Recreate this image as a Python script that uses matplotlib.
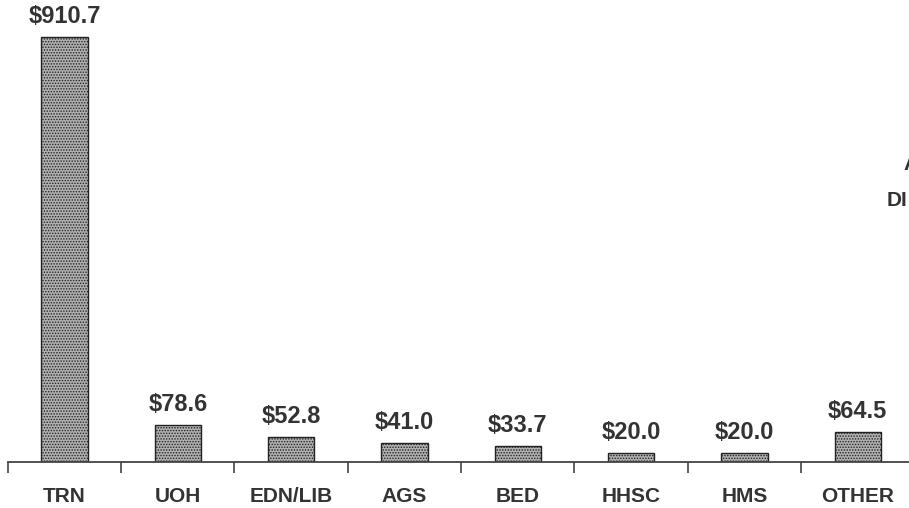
import matplotlib
matplotlib.use("Agg")
import matplotlib.pyplot as plt
import numpy as np

categories = ["TRN", "UOH", "EDN/LIB", "AGS", "BED", "HHSC", "HMS", "OTHER"]
values = [910.7, 78.6, 52.8, 41.0, 33.7, 20.0, 20.0, 64.5]
value_labels = ["$910.7", "$78.6", "$52.8", "$41.0", "$33.7", "$20.0", "$20.0", "$64.5"]

plt.rcParams["font.family"] = ["Liberation Sans", "DejaVu Sans"]
plt.rcParams["hatch.color"] = "#5a5a5a"
plt.rcParams["hatch.linewidth"] = 0.7

W, H = 909, 508
fig = plt.figure(figsize=(W / 100, H / 100), dpi=100)
# axes reaches past the right edge, like the cropped scan
ax = fig.add_axes([7.8 / W, 46 / H, 906.6 / W, 457 / H])

x = np.arange(len(categories))
ax.bar(x, values, width=0.41, color="#b0b0b0", edgecolor="#222222",
       linewidth=1.0, hatch="......", zorder=2)

for xi, v, lab in zip(x, values, value_labels):
    ax.annotate(lab, (xi, v), xytext=(0, 10), textcoords="offset points",
                ha="center", va="baseline", fontsize=17, fontweight="bold",
                color="#333333")

ax.set_xlim(-0.5, len(categories) - 0.5)
ax.set_ylim(0, 980)
ax.set_xticks(x)
ax.set_xticklabels(categories, fontsize=15, fontweight="bold", color="#333333")
ax.set_xticks(x - 0.5, minor=True)
ax.tick_params(axis="x", which="major", length=0, pad=18)
ax.tick_params(axis="x", which="minor", length=8, width=1.2, direction="out",
               color="#444444")
ax.set_yticks([])
for side in ["top", "right", "left"]:
    ax.spines[side].set_visible(False)
ax.spines["bottom"].set_color("#444444")
ax.spines["bottom"].set_linewidth(1.3)

# partial text cut off at the right edge of the scan
fig.text(903 / W, 1 - 165 / H, "A", fontsize=15, fontweight="bold",
         color="#333333", va="center", ha="left")
fig.text(887 / W, 1 - 200 / H, "DI", fontsize=15, fontweight="bold",
         color="#333333", va="center", ha="left")

fig.savefig("out.png", dpi=100)
